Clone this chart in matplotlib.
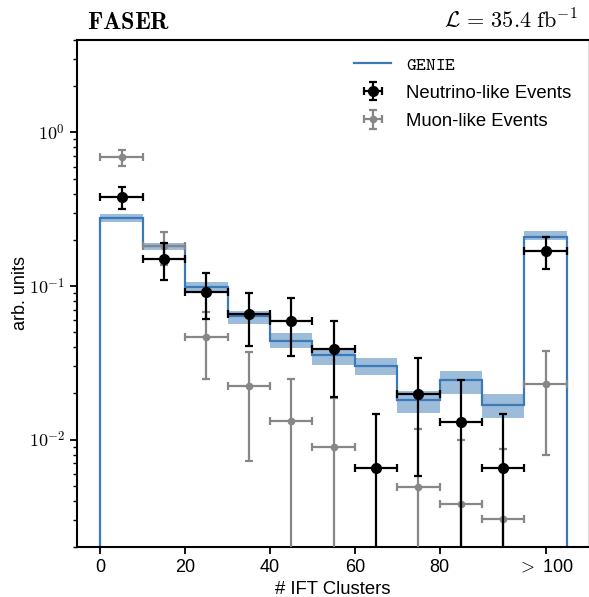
import numpy as np
import matplotlib
matplotlib.use("Agg")
import matplotlib.pyplot as plt

plt.rcParams['mathtext.fontset'] = 'cm'
plt.rcParams['font.family'] = ['Liberation Sans', 'DejaVu Sans']

# bin edges (last bin is the overflow "> 100")
edges = [0, 10, 20, 30, 40, 50, 60, 70, 80, 90, 100, 110]
centers = [5, 15, 25, 35, 45, 55, 65, 75, 85, 95, 105]

# GENIE prediction with uncertainty band
genie = [0.276, 0.183, 0.0986, 0.0641, 0.0441, 0.0355, 0.0300, 0.0181, 0.0244, 0.0168, 0.210]
genie_lo = [0.263, 0.172, 0.0923, 0.0569, 0.0396, 0.0308, 0.0262, 0.0150, 0.0199, 0.0139, 0.200]
genie_hi = [0.294, 0.192, 0.107, 0.0691, 0.0495, 0.0396, 0.0341, 0.0207, 0.0278, 0.0197, 0.229]

# neutrino-like events
nu_val = [0.378, 0.150, 0.091, 0.0654, 0.059, 0.039, 0.00658, 0.0198, 0.0131, 0.00658, 0.170]
nu_err = [0.062, 0.040, 0.030, 0.025, 0.024, 0.020, 0.0082, 0.014, 0.0115, 0.0082, 0.040]

# muon-like events (no entry in the 60-70 bin)
mu_x = [5, 15, 25, 35, 45, 55, 75, 85, 95, 105]
mu_val = [0.689, 0.181, 0.0464, 0.0223, 0.0133, 0.00897, 0.00488, 0.0038, 0.00303, 0.0229]
mu_err = [0.080, 0.043, 0.0215, 0.015, 0.0117, 0.0098, 0.0069, 0.0062, 0.0056, 0.015]

xtick_pos = [0, 20, 40, 60, 80, 105]
xtick_labels = ['0', '20', '40', '60', '80', r'$>$ 100']

blue = '#3b7ab7'

fig = plt.figure(figsize=(5.89, 5.97), dpi=100)
ax = fig.add_axes([0.1307, 0.0838, 0.8677, 0.8492])

# uncertainty band and step histogram
ax.stairs(genie_hi, edges, baseline=genie_lo, fill=True, color=blue, alpha=0.5, lw=0)
ax.stairs(genie, edges, baseline=0, color=blue, lw=1.6, label=r'$\mathtt{GENIE}$')

ax.errorbar(centers, nu_val, xerr=5, yerr=nu_err, fmt='o', color='black',
            ms=7, elinewidth=1.6, capsize=3, capthick=1.6, zorder=4,
            label='Neutrino-like Events')
ax.errorbar(mu_x, mu_val, xerr=5, yerr=mu_err, fmt='o', color='#878787',
            ms=4.5, elinewidth=1.6, capsize=3, capthick=1.6, zorder=3,
            label='Muon-like Events')

ax.set_yscale('log')
ax.set_xlim(-5.5, 115)
ax.set_ylim(0.002, 4)

ax.set_yticks([1e-2, 1e-1, 1e0])
ax.set_yticklabels([r'$10^{-2}$', r'$10^{-1}$', r'$10^{0}$'], fontsize=13)
ax.set_xticks(xtick_pos)
ax.set_xticklabels(xtick_labels, fontsize=13)
ax.tick_params(axis='both', which='major', length=5, width=1.3)
ax.tick_params(axis='y', which='minor', length=3, width=1.0)

for side in ['left', 'bottom', 'top']:
    ax.spines[side].set_linewidth(1.5)
ax.spines['right'].set_color('#dddddd')

ax.set_xlabel('# IFT Clusters', fontsize=13.3)
ax.set_ylabel('arb. units', fontsize=13, labelpad=0)

ax.text(0.02, 1.012, r'$\mathbf{FASER}$', transform=ax.transAxes, fontsize=17.5,
        ha='left', va='bottom')
ax.text(0.98, 1.012, r'$\mathcal{L}\,=\,35.4\ \mathrm{fb}^{-1}$', transform=ax.transAxes,
        fontsize=16, ha='right', va='bottom')

ax.legend(loc='upper right', frameon=False, fontsize=13.3, bbox_to_anchor=(1.0, 1.0),
          handlelength=2.0, labelspacing=0.6)

fig.savefig('out.png', dpi=100)
